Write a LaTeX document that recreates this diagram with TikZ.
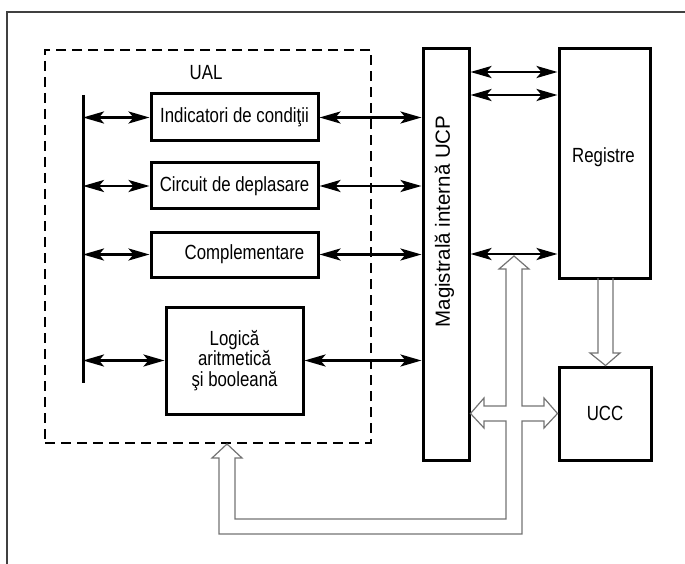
\documentclass[tikz,border=0pt]{standalone}
\usepackage{fontspec}
\setmainfont{Liberation Sans}[FakeStretch=0.82]
\newfontfamily\vfont{Liberation Sans}
\usetikzlibrary{arrows.meta}
\begin{document}
\begin{tikzpicture}[x=1pt,y=-1pt,
  box/.style={draw, line width=3pt, inner sep=0pt, font=\fontsize{20.5}{20.5}\selectfont, align=center},
  arr/.style={line width=2.6pt, {Stealth[length=21pt,width=12pt,inset=5pt]}-{Stealth[length=21pt,width=12pt,inset=5pt]}},
  hollow/.style={draw=black!55, line width=1.2pt, line join=miter},
  lbl/.style={font=\fontsize{20.5}{20.5}\selectfont, inner sep=0pt},
  frame/.style={draw=black!75, line width=1.2pt}
]
\useasboundingbox (0,0) rectangle (685,564);
% outer frame (top and left edges)
\coordinate (fbl) at (7,564);
\coordinate (ftl) at (7,12);
\coordinate (ftr) at (685,12);
\draw[frame] (fbl) -- (ftl) -- (ftr);

% UAL dashed region
\node[draw, line width=2pt, dash pattern=on 10pt off 6pt, minimum width=326pt, minimum height=393pt, inner sep=0pt] (ualbox) at (208,246.5) {};
\node[lbl] (ualtxt) at (206,73) {UAL};

% ALU blocks
\node[box, minimum width=167pt, minimum height=47pt] (ind) at (234.5,117.5) {Indicatori de condiţii};
\node[box, minimum width=167pt, minimum height=46pt] (circ) at (234.5,186) {Circuit de deplasare};
\node[box, minimum width=167pt, minimum height=45pt] (comp) at (234.5,254.5) {\hspace*{20pt}Complementare};
\node[box, minimum width=137pt, minimum height=107pt] (log) at (234.5,360.5) {Logică\\aritmetică\\şi booleană};

% internal bus
\node[box, minimum width=46pt, minimum height=411pt] (mag) at (446,254.5) {};
\node[rotate=90, font=\vfont\fontsize{20.5}{20.5}\selectfont, inner sep=0pt] (magtxt) at (444.5,221.5) {Magistrală internă UCP};

% registers and control unit
\node[box, minimum width=91pt, minimum height=229pt] (reg) at (604.5,163.5) {};
\node[lbl] (regtxt) at (603.5,157) {Registre};
\node[box, minimum width=92pt, minimum height=93pt] (ucc) at (605,413.5) {UCC};

% vertical ALU bus
\coordinate (bt) at (83,95);
\coordinate (bb) at (83,383);
\draw[line width=3pt] (bt) -- (bb);

% ALU arrows
\draw[arr] (bt |- ind.west) -- (ind.west);
\draw[arr] (ind.east) -- (ind.east -| mag.west);
\draw[arr] (bt |- circ.west) -- (circ.west);
\draw[arr] (circ.east) -- (circ.east -| mag.west);
\draw[arr] (bt |- comp.west) -- (comp.west);
\draw[arr] (comp.east) -- (comp.east -| mag.west);
\draw[arr] (bt |- log.west) -- (log.west);
\draw[arr] (log.east) -- (log.east -| mag.west);

% register arrows
\coordinate (r1) at (reg.west |- 0,72);
\coordinate (r2) at (reg.west |- 0,95);
\coordinate (r3) at (reg.west |- 0,254);
\draw[arr] (mag.east |- r1) -- (r1);
\draw[arr] (mag.east |- r2) -- (r2);
\draw[arr] (mag.east |- r3) -- (r3);

% hollow arrow Registre -> UCC
\draw[hollow] (598,278) -- (598,353) -- (590,353) -- (ucc.north -| 605.5,0) -- (620,353) -- (613,353) -- (613,278);

% hollow external bus
\draw[hollow] (514,256) -- (529,269) -- (522,269) -- (522,406) -- (544,406) -- (544,398)
  -- (ucc.west) -- (544,428) -- (544,421) -- (522,421) -- (522,534) -- (219,534)
  -- (219,458) -- (212,458) -- (ualbox.south -| 227,0) -- (242,458) -- (235,458)
  -- (235,519) -- (506,519) -- (506,421) -- (484,421) -- (484,428) -- (mag.east |- 0,413.5)
  -- (484,398) -- (484,406) -- (506,406) -- (506,269) -- (499,269) -- cycle;
\end{tikzpicture}
\end{document}
